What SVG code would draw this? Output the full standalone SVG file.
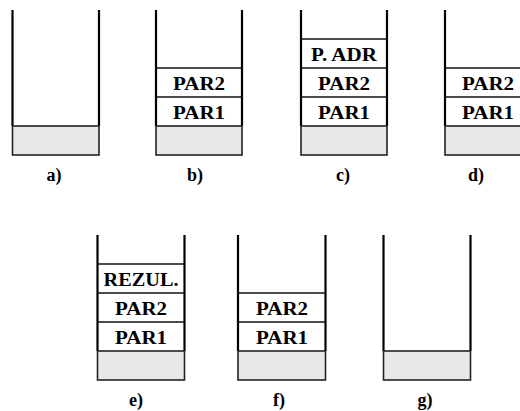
<svg xmlns="http://www.w3.org/2000/svg" width="520" height="411" viewBox="0 0 520 411">
<style>
.wall{stroke:#000;stroke-width:2.2;fill:none}
.cell{stroke:#111;stroke-width:1.5;fill:none}
.base{fill:#e8e8e8;stroke:#222;stroke-width:1.6}
.t{font-size:19px}
.lbl{font-size:18px}
</style>
<rect width="520" height="411" fill="#fff"/>
<g font-family="Liberation Serif, serif" font-weight="bold" text-anchor="middle" fill="#000">
<g id="stack-a">
<path class="wall" d="M12.5 10V126M99 10V126"/>
<rect class="base" x="12.5" y="126" width="86.5" height="29"/>
<text class="lbl" x="54" y="181">a)</text>
</g>
<g id="stack-b">
<path class="wall" d="M156 10V126M242 10V126"/>
<path class="cell" d="M156 68H242M156 97H242"/>
<rect class="base" x="156" y="126" width="86" height="29"/>
<text class="t" x="199" y="90" textLength="52" lengthAdjust="spacingAndGlyphs">PAR2</text>
<text class="t" x="199" y="119" textLength="52" lengthAdjust="spacingAndGlyphs">PAR1</text>
<text class="lbl" x="195" y="181">b)</text>
</g>
<g id="stack-c">
<path class="wall" d="M301 10V126M387 10V126"/>
<path class="cell" d="M301 39H387M301 68H387M301 97H387"/>
<rect class="base" x="301" y="126" width="86" height="29"/>
<text class="t" x="344" y="61" textLength="66" lengthAdjust="spacingAndGlyphs">P. ADR</text>
<text class="t" x="344" y="90" textLength="52" lengthAdjust="spacingAndGlyphs">PAR2</text>
<text class="t" x="344" y="119" textLength="52" lengthAdjust="spacingAndGlyphs">PAR1</text>
<text class="lbl" x="343" y="181">c)</text>
</g>
<g id="stack-d">
<path class="wall" d="M445 10V126M532 10V126"/>
<path class="cell" d="M445 68H532M445 97H532"/>
<rect class="base" x="445" y="126" width="87" height="29"/>
<text class="t" x="488" y="90" textLength="52" lengthAdjust="spacingAndGlyphs">PAR2</text>
<text class="t" x="488" y="119" textLength="52" lengthAdjust="spacingAndGlyphs">PAR1</text>
<text class="lbl" x="476" y="181">d)</text>
</g>
<g id="stack-e">
<path class="wall" d="M97.5 235V351M184.5 235V351"/>
<path class="cell" d="M97.5 264H184.5M97.5 293H184.5M97.5 322H184.5"/>
<rect class="base" x="97.5" y="351" width="87" height="29"/>
<text class="t" x="141" y="286" textLength="75" lengthAdjust="spacingAndGlyphs">REZUL.</text>
<text class="t" x="141" y="315" textLength="52" lengthAdjust="spacingAndGlyphs">PAR2</text>
<text class="t" x="141" y="344" textLength="52" lengthAdjust="spacingAndGlyphs">PAR1</text>
<text class="lbl" x="136" y="406">e)</text>
</g>
<g id="stack-f">
<path class="wall" d="M238 235V351M325.5 235V351"/>
<path class="cell" d="M238 293H325.5M238 322H325.5"/>
<rect class="base" x="238" y="351" width="87.5" height="29"/>
<text class="t" x="282" y="315" textLength="52" lengthAdjust="spacingAndGlyphs">PAR2</text>
<text class="t" x="282" y="344" textLength="52" lengthAdjust="spacingAndGlyphs">PAR1</text>
<text class="lbl" x="279" y="406">f)</text>
</g>
<g id="stack-g">
<path class="wall" d="M383.5 235V351M470.5 235V351"/>
<rect class="base" x="383.5" y="351" width="87" height="29"/>
<text class="lbl" x="425" y="406">g)</text>
</g>
</g>
<g id="connectors"></g>
</svg>
